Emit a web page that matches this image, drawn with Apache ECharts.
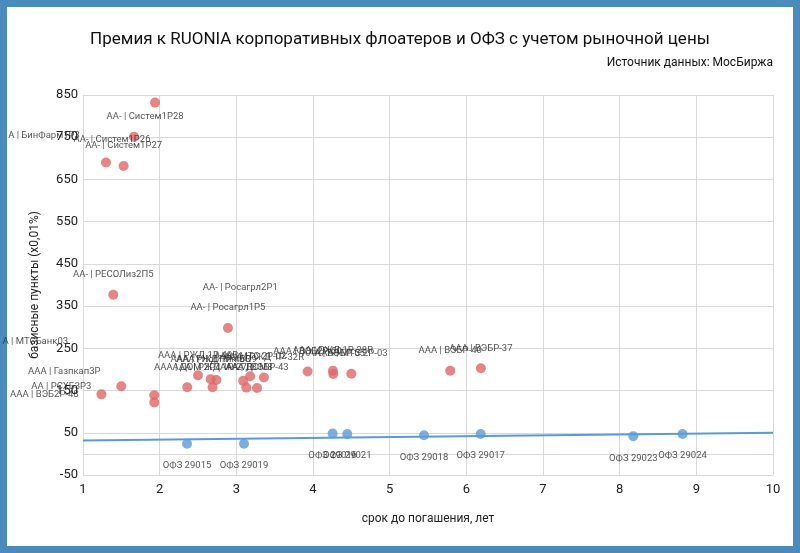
<!DOCTYPE html>
<html>
<head>
<meta charset="utf-8">
<script src="https://cdn.jsdelivr.net/npm/echarts@6/dist/echarts.min.js"></script>
<style>
  html, body { margin: 0; padding: 0; background: #4a8bbb; }
  #frame { position: absolute; left: 7px; top: 7px; right: 7px; bottom: 7px; background: #fff; }
  #chart { width: 800px; height: 553px; position: absolute; left: 0; top: 0; }
</style>
</head>
<body>
<div id="frame"></div>
<div id="chart"></div>
<script>
// корпоративные флоатеры: срок (лет), премия (б.п.), название
const corpYears = [1.94, 1.665, 1.30, 1.53, 1.395, 2.89,
  1.24, 1.50, 1.93, 1.93, 2.36, 2.50, 2.665, 2.74, 2.69, 3.09, 3.18, 3.13, 3.27, 3.36,
  3.93, 4.26, 4.265, 4.50, 5.79, 6.19]
const corpSpread = [832, 751, 690, 682, 377, 298,
  141, 160, 139, 122, 158, 186, 177, 175, 158, 173, 184, 157, 156, 181,
  195, 197, 189, 190, 197, 203]
const corpNames = ['АА- | Систем1Р28', 'АА- | Систем1Р26', 'А | БинФарм1Р3', 'АА- | Систем1Р27',
  'АА- | РЕСОЛиз2П5', 'АА- | Росагрл1Р5',
  'ААА | ВЭБ2Р-48', 'АА | РСХБ3Р3', 'ААА | Газпкап3Р', 'А | МТСБанк03', 'ААА | ДОМ 2Р4',
  'ААА | РЖД 1Р-49R', 'ААА | РЖД 1Р-46R', 'ААА | НорНик БО9', 'ААА | РЖД 1Р-27R',
  'АА- | Росагрл2Р1', 'ААА | МТС 2Р-02', 'ААА | ДОМ8', 'ААА | ВЭБР-43', 'ААА | РЖД 1Р-32R',
  'ААА | ВЭБ2Р-50', 'ААА | РЖД 1Р-28R', 'ААА | ВЭБР-55', 'ААА | МТС 2Р-03',
  'ААА | ВЭБР-40', 'ААА | ВЭБР-37']

// ОФЗ-ПК
const ofzYears = [2.357, 3.10, 4.256, 4.447, 5.448, 6.187, 8.178, 8.82]
const ofzSpread = [24, 24, 48, 47, 44, 47, 42, 47]
const ofzNames = ['ОФЗ 29015', 'ОФЗ 29019', 'ОФЗ 29016', 'ОФЗ 29021', 'ОФЗ 29018',
  'ОФЗ 29017', 'ОФЗ 29023', 'ОФЗ 29024']

// линия тренда ОФЗ
const trendYears = [1, 10]
const trendSpread = [32, 50]

// ручные сдвиги подписей (как в исходнике), пикселы
const labelShift = {
  'АА- | Систем1Р28': [-10, 34],
  'АА- | Систем1Р26': [-22, 23],
  'А | БинФарм1Р3': [-62, -7],
  'АА- | Росагрл2Р1': [-3, -73],
  'ААА | ВЭБ2Р-48': [-57, 20],
  'АА | РСХБ3Р3': [-60, 20],
  'А | МТСБанк03': [-119, -41],
  'ААА | Газпкап3Р': [-90, -4]
}

const chart = echarts.init(document.getElementById('chart'))

const labelFont = { fontFamily: 'Roboto', fontSize: 9.5, color: '#2b2b2b' }

const option = {
  animation: false,
  textStyle: { fontFamily: 'Roboto' },
  title: [
    {
      text: 'Премия к RUONIA корпоративных флоатеров и ОФЗ с учетом рыночной цены',
      left: 'center',
      top: 26,
      textStyle: { fontFamily: 'Roboto', fontSize: 17, fontWeight: 'normal', color: '#111' }
    },
    {
      text: 'Источник данных: МосБиржа',
      right: 22,
      top: 52,
      textStyle: { fontFamily: 'Roboto', fontSize: 12, fontWeight: 'normal', color: '#111' }
    }
  ],
  grid: { left: 83, right: 27, top: 95, bottom: 78 },
  xAxis: {
    type: 'value',
    min: 1,
    max: 10,
    interval: 1,
    name: 'срок до погашения, лет',
    nameLocation: 'middle',
    nameGap: 38,
    nameTextStyle: { fontSize: 12, color: '#222' },
    axisLine: { show: true, lineStyle: { color: '#d9d9d9' } },
    axisTick: { show: false },
    axisLabel: { fontSize: 13, color: '#222', margin: 8 },
    splitLine: { show: true, lineStyle: { color: '#d9d9d9' } }
  },
  yAxis: {
    type: 'value',
    min: -50,
    max: 850,
    interval: 100,
    name: 'базисные пункты (x0,01%)',
    nameLocation: 'middle',
    nameGap: 42,
    nameTextStyle: { fontSize: 12, color: '#222' },
    axisLine: { show: false },
    axisTick: { show: false },
    axisLabel: { fontSize: 13, color: '#222', margin: 5 },
    splitLine: { show: true, lineStyle: { color: '#d9d9d9' } }
  },
  series: [
    {
      name: 'Тренд',
      type: 'line',
      data: trendYears.map((x, i) => [x, trendSpread[i]]),
      symbol: 'none',
      lineStyle: { color: '#5b9bd5', width: 2 },
      z: 1
    },
    {
      name: 'Корпоративные',
      type: 'scatter',
      symbolSize: 10,
      itemStyle: { color: '#e06666' },
      data: corpYears.map((x, i) => ({ value: [x, corpSpread[i]], name: corpNames[i] })),
      label: {
        show: true,
        position: 'top',
        distance: 10,
        formatter: p => p.name,
        ...labelFont
      },
      labelLayout: params => {
        const s = labelShift[corpNames[params.dataIndex]]
        return s ? { dx: s[0], dy: s[1] } : {}
      },
      z: 3
    },
    {
      name: 'ОФЗ',
      type: 'scatter',
      symbolSize: 10,
      itemStyle: { color: '#5b9bd5' },
      data: ofzYears.map((x, i) => ({ value: [x, ofzSpread[i]], name: ofzNames[i] })),
      label: {
        show: true,
        position: 'bottom',
        distance: 12,
        formatter: p => p.name,
        ...labelFont
      },
      z: 3
    }
  ]
}

chart.setOption(option)
</script>
</body>
</html>
